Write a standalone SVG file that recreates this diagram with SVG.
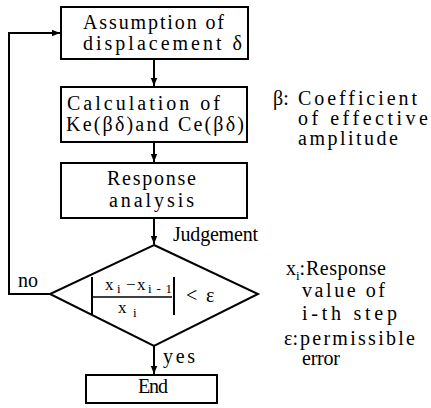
<svg xmlns="http://www.w3.org/2000/svg" width="431" height="408" viewBox="0 0 431 408">
<style>
.box{fill:#fff;stroke:#000;stroke-width:2}
.ln{fill:none;stroke:#000;stroke-width:2}
text{font-family:"Liberation Serif","DejaVu Serif",serif;font-size:20px;fill:#000}
.sub{font-size:13px}
.fx{font-size:17px}
</style>
<defs>
<marker id="ah" viewBox="0 0 10 10" refX="10" refY="5" markerWidth="4" markerHeight="4" orient="auto" markerUnits="strokeWidth">
<path d="M0,1 L10,5 L0,9 Z" fill="#000"/>
</marker>
</defs>
<rect width="431" height="408" fill="#fff"/>
<g id="connectors">
<line class="ln" x1="154" y1="59" x2="154" y2="86" marker-end="url(#ah)"/>
<line class="ln" x1="154" y1="142" x2="154" y2="162" marker-end="url(#ah)"/>
<line class="ln" x1="154" y1="218" x2="154" y2="244" marker-end="url(#ah)"/>
<line class="ln" x1="154" y1="346" x2="154" y2="374" marker-end="url(#ah)"/>
<polyline class="ln" points="50,294 9,294 9,33 60,33" marker-end="url(#ah)"/>
<text x="18" y="287" textLength="20" lengthAdjust="spacing">no</text>
<text x="163" y="363" textLength="32" lengthAdjust="spacing">yes</text>
</g>
<g id="assumption">
<rect class="box" x="61" y="7" width="187" height="52"/>
<text x="83" y="29" textLength="141" lengthAdjust="spacing">Assumption of</text>
<text x="83" y="50" textLength="159" lengthAdjust="spacing">displacement δ</text>
</g>
<g id="calculation">
<rect class="box" x="61" y="87" width="186" height="55"/>
<text x="67" y="110" textLength="153" lengthAdjust="spacing">Calculation of</text>
<text x="66" y="131" textLength="178" lengthAdjust="spacing">Ke(βδ)and Ce(βδ)</text>
</g>
<g id="response">
<rect class="box" x="61" y="163" width="186" height="55"/>
<text x="107" y="185" textLength="89" lengthAdjust="spacing">Response</text>
<text x="109" y="207" textLength="85" lengthAdjust="spacing">analysis</text>
</g>
<g id="judgement">
<polygon class="box" points="154,245 258,294 154,346 50,294"/>
<text x="173" y="241" textLength="85" lengthAdjust="spacing">Judgement</text>
<line class="ln" x1="92" y1="277" x2="92" y2="315"/>
<line class="ln" x1="174" y1="277" x2="174" y2="315"/>
<line x1="92" y1="297" x2="172" y2="297" stroke="#000" stroke-width="1.5"/>
<text class="fx" x="105" y="290">x</text>
<text class="sub" x="117" y="293">i</text>
<text class="fx" x="126" y="290">−</text>
<text class="fx" x="137" y="290">x</text>
<text class="sub" x="148" y="293" textLength="24" lengthAdjust="spacing">i-1</text>
<text class="fx" x="118" y="313">x</text>
<text class="sub" x="133" y="317">i</text>
<text x="186" y="302">&lt;</text>
<text x="206" y="302">ε</text>
</g>
<g id="end">
<rect class="box" x="86" y="375" width="131" height="28"/>
<text x="138" y="393" textLength="30" lengthAdjust="spacing">End</text>
</g>
<g id="notes">
<text x="273" y="105">β:</text>
<text x="298" y="105" textLength="119" lengthAdjust="spacing">Coefficient</text>
<text x="298" y="125" textLength="130" lengthAdjust="spacing">of effective</text>
<text x="298" y="145" textLength="100" lengthAdjust="spacing">amplitude</text>
<text x="286" y="275">x</text>
<text class="sub" x="296" y="280">i</text>
<text x="299.5" y="275">:</text>
<text x="306" y="275" textLength="80" lengthAdjust="spacing">Response</text>
<text x="302" y="297" textLength="83" lengthAdjust="spacing">value of</text>
<text x="302" y="320" textLength="95" lengthAdjust="spacing">i-th step</text>
<text x="284" y="345">ε:</text>
<text x="300" y="345" textLength="115" lengthAdjust="spacing">permissible</text>
<text x="302" y="365" textLength="38" lengthAdjust="spacing">error</text>
</g>
</svg>
